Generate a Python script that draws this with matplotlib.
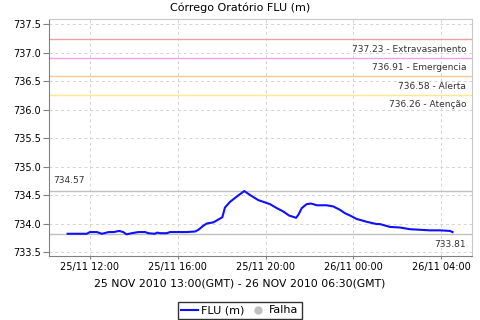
import datetime as dt
import matplotlib
matplotlib.use('Agg')
import matplotlib.pyplot as plt
import matplotlib.dates as mdates
from matplotlib.lines import Line2D

# hours counted from 25/11/2010 00:00 (local time shown on axis)
hours = [10.98, 11.85, 12.0, 12.31, 12.54, 12.85, 13.08, 13.33, 13.51, 13.67,
         13.90, 14.20, 14.51, 14.66, 14.96, 15.05, 15.20, 15.50, 15.65, 16.41,
         16.79, 16.94, 17.16, 17.32, 17.62, 17.85, 18.03, 18.15, 18.38, 18.68,
         19.03, 19.29, 19.67, 19.90, 20.20, 20.51, 20.81, 21.07, 21.39, 21.49,
         21.65, 21.87, 22.06, 22.17, 22.33, 22.78, 23.08, 23.39, 23.62, 23.85,
         24.15, 24.61, 25.06, 25.21, 25.67, 26.12, 26.58, 27.03, 27.49, 27.95,
         28.40, 28.52]
levels = [733.82, 733.82, 733.85, 733.85, 733.82, 733.85, 733.85, 733.87, 733.85, 733.81,
          733.83, 733.85, 733.85, 733.83, 733.82, 733.84, 733.83, 733.83, 733.85, 733.85,
          733.86, 733.89, 733.96, 734.00, 734.02, 734.07, 734.11, 734.28, 734.38, 734.47,
          734.57, 734.50, 734.41, 734.38, 734.34, 734.27, 734.21, 734.14, 734.10, 734.15,
          734.27, 734.34, 734.35, 734.34, 734.32, 734.32, 734.30, 734.24, 734.18, 734.14,
          734.08, 734.03, 733.99, 733.99, 733.94, 733.93, 733.90, 733.89, 733.88, 733.88,
          733.87, 733.85]

# alert levels
limit_vals = [737.23, 736.91, 736.58, 736.26]
limit_names = ['Extravasamento', 'Emergencia', 'Alerta', 'Atenção']
limit_colors = ['#f0a0a0', '#f0a0f0', '#ffc890', '#ffe88a']
max_val = 734.57
min_val = 733.81

base = dt.datetime(2010, 11, 25)
times = [base + dt.timedelta(hours=h) for h in hours]

fig = plt.figure(figsize=(4.8, 3.2), dpi=100)
ax = fig.add_axes([0.102, 0.2, 0.881, 0.741])

ax.grid(True, color='#d4d4d4', linestyle=(0, (3, 3)), linewidth=0.7)
ax.set_axisbelow(True)

for v, name, c in zip(limit_vals, limit_names, limit_colors):
    ax.axhline(v, color=c, linewidth=1)
    ax.annotate(f'{v:.2f} - {name}', xy=(1, v), xycoords=('axes fraction', 'data'),
                xytext=(-4, -4), textcoords='offset points', ha='right', va='top',
                fontsize=6.5, color='#333333')

ax.axhline(max_val, color='#c0c0c0', linewidth=1)
ax.annotate(f'{max_val:.2f}', xy=(0, max_val), xycoords=('axes fraction', 'data'),
            xytext=(3, 4), textcoords='offset points', ha='left', va='bottom',
            fontsize=6.5, color='#333333')
ax.axhline(min_val, color='#c0c0c0', linewidth=1)
ax.annotate(f'{min_val:.2f}', xy=(1, min_val), xycoords=('axes fraction', 'data'),
            xytext=(-4, -4), textcoords='offset points', ha='right', va='top',
            fontsize=6.5, color='#333333')

ax.plot(times, levels, color='#1010ff', linewidth=1.5)

ax.set_xlim(base + dt.timedelta(hours=10.13), base + dt.timedelta(hours=29.40))
ax.set_ylim(733.43, 737.59)
ax.set_yticks([733.5, 734.0, 734.5, 735.0, 735.5, 736.0, 736.5, 737.0, 737.5])
ax.yaxis.set_major_formatter(plt.FormatStrFormatter('%.1f'))
ax.xaxis.set_major_locator(mdates.HourLocator(byhour=[0, 4, 8, 12, 16, 20]))
ax.xaxis.set_major_formatter(mdates.DateFormatter('%d/%m %H:%M'))
ax.tick_params(labelsize=7, length=2, color='#808080', pad=2)
ax.tick_params(axis='y', length=4)

for s in ['left', 'bottom']:
    ax.spines[s].set_color('#808080')
for s in ['top', 'right']:
    ax.spines[s].set_color('#c8c8c8')

fig.text(0.5, 1 - 8 / 320, 'Córrego Oratório FLU (m)', fontsize=8, ha='center', va='center')
fig.text(0.5, 1 - 283 / 320, '25 NOV 2010 13:00(GMT) - 26 NOV 2010 06:30(GMT)',
         fontsize=7.8, ha='center', va='center')

handles = [Line2D([], [], color='#1010ff', linewidth=1.5),
           Line2D([], [], color='#c0c0c0', marker='o', linestyle='none', markersize=5)]
leg = fig.legend(handles, ['FLU (m)', 'Falha'], loc='center', bbox_to_anchor=(0.5, 0.03),
                 ncol=2, fontsize=8, frameon=True, fancybox=False, handlelength=1.5,
                 handletextpad=0.3, columnspacing=0.4, borderpad=0.3)
leg.get_frame().set_edgecolor('black')
leg.get_frame().set_linewidth(1)

fig.savefig('out.png', dpi=100)
